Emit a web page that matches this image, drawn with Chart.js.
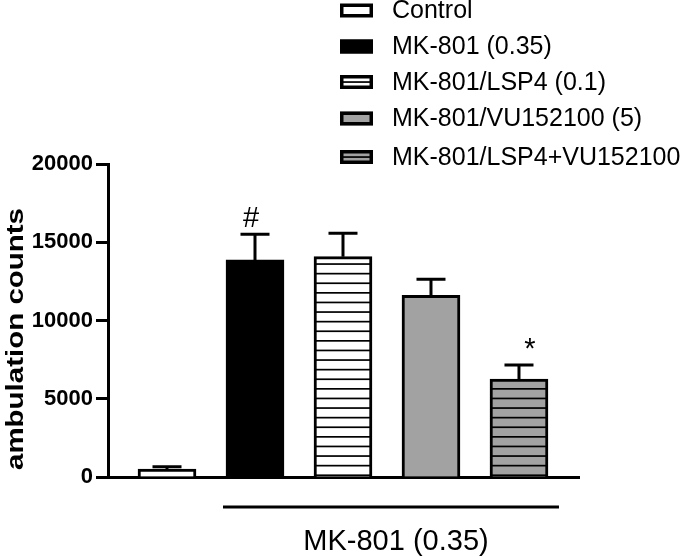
<!DOCTYPE html>
<html><head><meta charset="utf-8">
<script src="https://cdn.jsdelivr.net/npm/chart.js@4.4.1/dist/chart.umd.min.js"></script>
<style>html,body{margin:0;padding:0;background:#fff;} #wrap{width:685px;height:557px;}</style>
</head><body><div id="wrap"><canvas id="c" width="685" height="557"></canvas></div>
<script>
// ---- data ----
const groups = ['Control', 'MK-801 (0.35)', 'MK-801/LSP4 (0.1)', 'MK-801/VU152100 (5)', 'MK-801/LSP4+VU152100'];
const means = [500, 13870, 14080, 11610, 6260];
const sems = [160, 1640, 1490, 1020, 895];
const marks = ['', '#', '', '', '*'];
const yTicks = [0, 5000, 10000, 15000, 20000];
const yTitle = 'ambulation counts';
const groupLabel = 'MK-801 (0.35)';

// ---- styles ----
const FONT = "'Liberation Sans', Arial, Helvetica, sans-serif";
const GRAY = '#a2a2a2';
function hatch(bg) {
  const c = document.createElement('canvas');
  c.width = 8; c.height = 48;
  const g = c.getContext('2d');
  g.fillStyle = bg; g.fillRect(0, 0, 8, 48);
  g.fillStyle = '#000';
  for (let k = 0; k < 5; k++) g.fillRect(0, 4 + k * 9.6, 8, 1.7);
  return document.getElementById('c').getContext('2d').createPattern(c, 'repeat');
}
const fills = ['#ffffff', '#000000', hatch('#ffffff'), GRAY, hatch(GRAY)];
const legendBase = ['#ffffff', '#000000', '#ffffff', GRAY, GRAY];
const legendLine = [false, false, true, false, true];

const datasets = groups.map((g, i) => ({
  label: g,
  data: [{x: i + 1, y: means[i]}],
  backgroundColor: fills[i],
  borderColor: '#000',
  borderWidth: 3,
  barThickness: 58,
  grouped: false
}));

const extras = {
  id: 'extras',
  afterDatasetsDraw(chart) {
    const ctx = chart.ctx, ys = chart.scales.y;
    ctx.save();
    ctx.strokeStyle = '#000'; ctx.lineWidth = 3; ctx.lineCap = 'butt';
    chart.data.datasets.forEach((ds, i) => {
      const b = chart.getDatasetMeta(i).data[0];
      const yt = ys.getPixelForValue(means[i] + sems[i]);
      ctx.beginPath();
      ctx.moveTo(b.x, b.y); ctx.lineTo(b.x, yt);
      ctx.moveTo(b.x - 14.5, yt); ctx.lineTo(b.x + 14.5, yt);
      ctx.stroke();
      if (marks[i]) {
        ctx.fillStyle = '#000';
        ctx.font = '29px ' + FONT;
        ctx.textAlign = 'center'; ctx.textBaseline = 'alphabetic';
        const dx = marks[i] === '#' ? -4 : 11;
        ctx.fillText(marks[i], b.x + dx, yt - 7);
      }
    });
    ctx.restore();
  },
  afterDraw(chart) {
    const ctx = chart.ctx;
    ctx.save();
    // y title (stretched along its length as in the reference)
    ctx.fillStyle = '#000';
    ctx.font = 'bold 23px ' + FONT;
    const w = ctx.measureText(yTitle).width;
    ctx.translate(23, 470);
    ctx.rotate(-Math.PI / 2);
    ctx.scale(262 / w, 1);
    ctx.textAlign = 'left'; ctx.textBaseline = 'alphabetic';
    ctx.fillText(yTitle, 0, 0);
    ctx.restore();

    // group line and label
    ctx.save();
    const b1 = chart.getDatasetMeta(1).data[0], b4 = chart.getDatasetMeta(4).data[0];
    const x1 = b1.x - 32, x2 = b4.x + 40;
    ctx.strokeStyle = '#000'; ctx.lineWidth = 3;
    ctx.beginPath(); ctx.moveTo(x1, 507); ctx.lineTo(x2, 507); ctx.stroke();
    ctx.fillStyle = '#000';
    ctx.font = '29px ' + FONT;
    ctx.textAlign = 'center'; ctx.textBaseline = 'alphabetic';
    ctx.fillText(groupLabel, (x1 + x2) / 2 + 5, 550);
    ctx.restore();

    // legend
    ctx.save();
    const rows = [10.5, 46.5, 82, 118.5, 157];
    chart.data.datasets.forEach((ds, i) => {
      const cy = rows[i];
      const bx = 340, bw = 33, bh = 14;
      ctx.fillStyle = legendBase[i];
      ctx.fillRect(bx, cy - bh / 2, bw, bh);
      if (legendLine[i]) {
        ctx.fillStyle = '#000';
        ctx.fillRect(bx, cy - 0.8, bw, 1.7);
      }
      ctx.strokeStyle = '#000'; ctx.lineWidth = 3.5;
      ctx.strokeRect(bx + 1.75, cy - bh / 2 + 1.75, bw - 3.5, bh - 3.5);
      ctx.fillStyle = '#000';
      ctx.font = '25px ' + FONT;
      ctx.textAlign = 'left'; ctx.textBaseline = 'middle';
      ctx.fillText(ds.label, 392, cy + 1);
    });
    ctx.restore();
  }
};

new Chart(document.getElementById('c'), {
  type: 'bar',
  data: { datasets },
  options: {
    responsive: false,
    animation: false,
    events: [],
    layout: { padding: { top: 164, right: 106, bottom: 0, left: 0 } },
    plugins: { legend: { display: false }, tooltip: { enabled: false }, title: { display: false } },
    scales: {
      x: {
        type: 'linear',
        offset: false,
        min: 0.3295,
        max: 5.682,
        ticks: { display: false },
        grid: { display: false, offset: false },
        border: { display: true, color: '#000', width: 3 },
        afterFit(s) { s.height = 80; }
      },
      y: {
        type: 'linear',
        min: 0, max: 20000,
        afterBuildTicks(s) { s.ticks = yTicks.map(v => ({ value: v })); },
        ticks: { color: '#000', padding: 3, font: { family: FONT, size: 22, weight: 'bold' },
                 callback: v => String(v) },
        grid: { display: true, drawOnChartArea: false, drawTicks: true, tickLength: 12, tickWidth: 3, tickColor: '#000' },
        border: { display: true, color: '#000', width: 3 },
        afterFit(s) { s.width = 108; }
      }
    }
  },
  plugins: [extras]
});
</script>
</body></html>
